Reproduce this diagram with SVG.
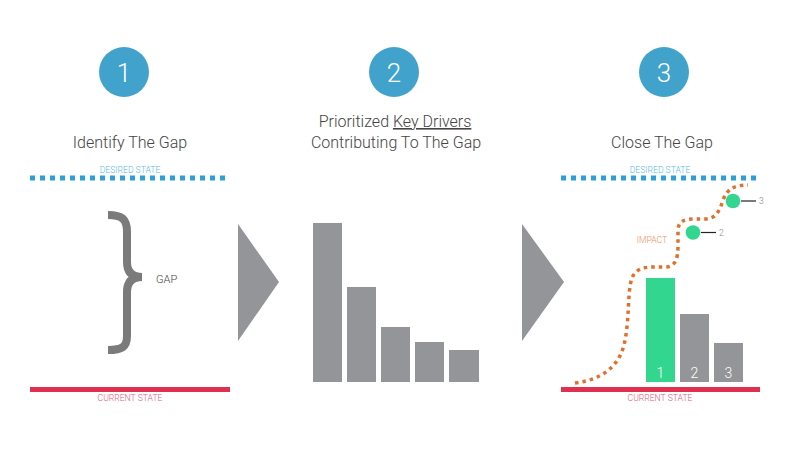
<svg xmlns="http://www.w3.org/2000/svg" width="800" height="450" viewBox="0 0 800 450">
<style>
.num{font-family:Roboto,"Liberation Sans",sans-serif;font-weight:300;font-size:26px;fill:#fff;text-anchor:middle}
.title{font-family:Roboto,"Liberation Sans",sans-serif;font-weight:300;font-size:16px;fill:#444;text-anchor:middle}
.small{font-family:Roboto,"Liberation Sans",sans-serif;font-weight:300;font-size:8.6px;text-anchor:middle}
.desired{fill:#5bb8e3}
.current{fill:#e05a78}
.bar{fill:#939598}
.arrow{fill:#939598}
.dots{fill:none;stroke:#2a9fd8;stroke-width:5;stroke-dasharray:5 5}
.redline{stroke:#e0304f;stroke-width:5}
.barnum{font-family:Roboto,"Liberation Sans",sans-serif;font-weight:300;font-size:14px;fill:#fff;text-anchor:middle}
.lbl{font-family:Roboto,"Liberation Sans",sans-serif;font-weight:300;font-size:8.5px;fill:#888}
</style>
<rect width="800" height="450" fill="#fff"/>

<g id="step1">
<circle cx="124" cy="72" r="25" fill="#41a3cb"/>
<text class="num" x="124" y="82">1</text>
<text class="title" x="130" y="148">Identify The Gap</text>
</g>
<g id="step2">
<circle cx="394" cy="72" r="25" fill="#41a3cb"/>
<text class="num" x="394" y="82">2</text>
<text class="title" x="395" y="127">Prioritized <tspan text-decoration="underline">Key Drivers</tspan></text>
<text class="title" x="396" y="148">Contributing To The Gap</text>
</g>
<g id="step3">
<circle cx="664" cy="72" r="25" fill="#41a3cb"/>
<text class="num" x="664" y="82">3</text>
<text class="title" x="662" y="148">Close The Gap</text>
</g>

<g id="panel1">
<text class="small desired" x="130" y="173">DESIRED STATE</text>
<line class="dots" x1="30" y1="178" x2="228" y2="178"/>
<path d="M108,215 C122,215 127,219 127,232 L127,262 C127,272 132,277 142,277 C132,277 127,282 127,292 L127,336 C127,347 122,350 108,350" fill="none" stroke="#7b7b7b" stroke-width="8"/>
<text x="156" y="283" font-family="Roboto,'Liberation Sans',sans-serif" font-weight="300" font-size="11" fill="#444">GAP</text>
<line class="redline" x1="30" y1="389.5" x2="230" y2="389.5"/>
<text class="small current" x="130" y="401">CURRENT STATE</text>
</g>

<g id="arrow1"><polygon class="arrow" points="238,224 279,282 238,341"/></g>

<g id="panel2">
<rect class="bar" x="313" y="223" width="29" height="159"/>
<rect class="bar" x="347" y="287" width="29" height="95"/>
<rect class="bar" x="381" y="327" width="29" height="55"/>
<rect class="bar" x="415" y="342" width="29" height="40"/>
<rect class="bar" x="449" y="350" width="30" height="32"/>
</g>

<g id="arrow2"><polygon class="arrow" points="522,224 564,282 522,341"/></g>

<g id="panel3">
<text class="small desired" x="660" y="173">DESIRED STATE</text>
<line class="dots" x1="561" y1="178" x2="759" y2="178"/>
<rect x="646" y="278" width="29" height="104" fill="#33d68f"/>
<rect class="bar" x="680" y="314" width="29" height="68"/>
<rect class="bar" x="714" y="343" width="29" height="39"/>
<text class="barnum" x="660.5" y="378">1</text>
<text class="barnum" x="694.5" y="378">2</text>
<text class="barnum" x="728.5" y="378">3</text>
<path d="M575,383 C600,380 618,368 624,345 C630,320 627,292 632,278 C636,268 645,267 655,267 L665,267 C676,267 678,258 678,245 L678,232 C678,222 682,219 695,219 L705,219 C716,219 720,210 723,200 C727,190 733,185 748,185" fill="none" stroke="#e0702e" stroke-width="3.5" stroke-dasharray="3.5 4"/>
<text x="652" y="243" font-family="Roboto,'Liberation Sans',sans-serif" font-weight="300" font-size="8.6" fill="#eb9264" text-anchor="middle">IMPACT</text>
<circle cx="693" cy="232.5" r="7.3" fill="#33d68f"/>
<line x1="701" y1="232.5" x2="716" y2="232.5" stroke="#222" stroke-width="1.2"/>
<text class="lbl" x="719" y="235.5">2</text>
<circle cx="733" cy="201" r="7.3" fill="#33d68f"/>
<line x1="741" y1="201" x2="756" y2="201" stroke="#222" stroke-width="1.2"/>
<text class="lbl" x="759" y="204">3</text>
<line class="redline" x1="561" y1="389.5" x2="760" y2="389.5"/>
<text class="small current" x="660" y="401">CURRENT STATE</text>
</g>
</svg>
